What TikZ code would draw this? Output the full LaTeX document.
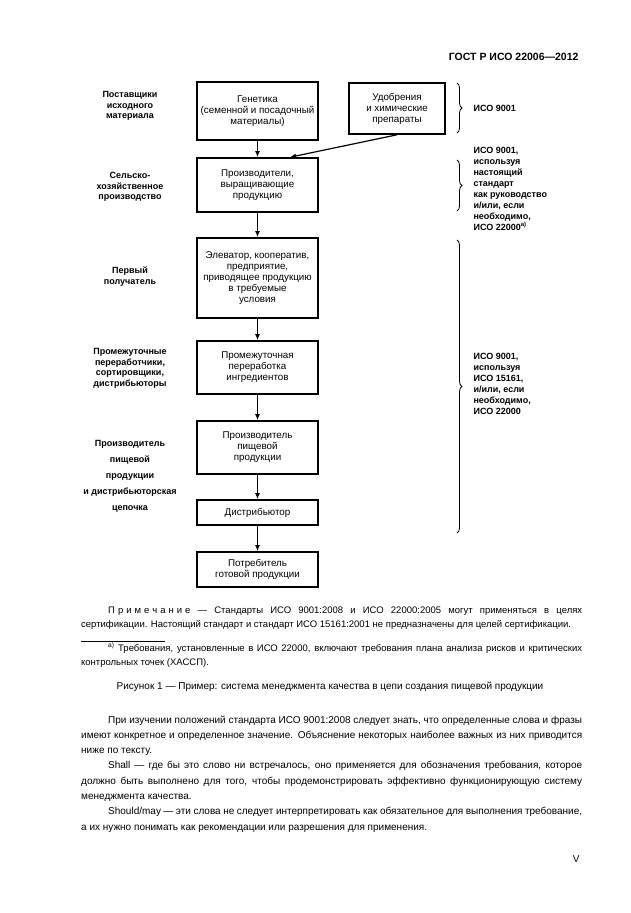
\documentclass[tikz,border=0pt]{standalone}
\usepackage{fontspec}
\setmainfont{Liberation Sans}
\usetikzlibrary{arrows.meta,positioning,decorations.pathreplacing}
\tikzset{>={Latex[length=6pt,width=5pt]}}
\newcommand{\ls}{\hspace{3pt}}

\begin{document}
\begin{tikzpicture}[x=1pt, y=-1pt,
	stage/.style={rectangle, draw=black, line width=1.6pt, minimum width=121pt, inner sep=1pt, align=center, font=\fontsize{9.8}{11}\selectfont},
	who/.style={align=center, font=\bfseries\fontsize{9}{10.6}\selectfont},
	iso/.style={anchor=west, align=left, font=\bfseries\fontsize{9}{11}\selectfont},
	brc/.style={decorate, decoration={brace, amplitude=5pt}, line width=0.8pt},
	para/.style={anchor=base west, inner sep=0pt, text width=501pt, align=justify},
	node distance=74pt, on grid]
	\useasboundingbox (0,0) rectangle (630,913);

	\node[anchor=base east, font=\bfseries\fontsize{10.5}{12}\selectfont] (head) at (582,60) {ГОСТ Р ИСО 22006—2012};

	% chain of boxes
	\node[stage, minimum height=58pt] (gen) at (257.5,111) {Генетика\\(семенной и посадочный\\материалы)};
	\node[stage, minimum height=54pt] (farm) [below=74pt of gen] {Производители,\\выращивающие\\продукцию};
	\node[stage, minimum height=80pt] (elev) [below=93pt of farm] {Элеватор, кооператив,\\предприятие,\\приводящее продукцию\\в требуемые\\условия};
	\node[stage, minimum height=53pt] (mid) [below=89.5pt of elev] {Промежуточная\\переработка\\ингредиентов};
	\node[stage, minimum height=53pt] (prod) [below=80pt of mid] {Производитель\\пищевой\\продукции};
	\node[stage, minimum height=25pt] (dist) [below=65pt of prod] {Дистрибьютор};
	\node[stage, minimum height=35pt] (cons) [below=57pt of dist] {Потребитель\\готовой продукции};
	\node[stage, minimum width=96pt, minimum height=51pt] (fert) [above right=2.5pt and 139.5pt of gen] {Удобрения\\и химические\\препараты};

	\path[->, line width=1.6pt]
		(gen) edge (farm)
		(farm) edge (elev)
		(elev) edge (mid)
		(mid) edge (prod)
		(prod) edge (dist)
		(dist) edge (cons);
	\draw[->, line width=1.2pt] (fert.south) -- ([xshift=32.5pt]farm.north);

	% stages on the left
	\node[who] (lsup) [left=127.5pt of gen, yshift=5pt] {Поставщики\\исходного\\материала};
	\node[who] (lfarm) [left=127.5pt of farm, yshift=-2pt] {Сельско-\\хозяйственное\\производство};
	\node[who] (lfirst) [left=127.5pt of elev, yshift=1.5pt] {Первый\\получатель};
	\node[who] (lmid) [left=127.5pt of mid, yshift=-1pt] {Промежуточные\\переработчики,\\сортировщики,\\дистрибьюторы};
	\node[who, font=\bfseries\fontsize{9}{16}\selectfont] (lprod) [left=127.5pt of prod, yshift=-28.5pt] {Производитель\\пищевой\\продукции\\и дистрибьюторская\\цепочка};

	% standards on the right
	\draw[brc] (457,83) -- (457,133);
	\draw[brc] (457,160) -- (457,211);
	\draw[brc] (457,240) -- (457,533);
	\node[iso] (iso1) at (470,108) {ИСО 9001};
	\node[iso] (iso2) at (470,189) {ИСО 9001,\\используя\\настоящий\\стандарт\\как руководство\\и/или, если\\необходимо,\\ИСО 22000\textsuperscript{а)}};
	\node[iso] (iso3) at (470,384) {ИСО 9001,\\используя\\ИСО 15161,\\и/или, если\\необходимо,\\ИСО 22000};

	% text under the figure
	\node[para, font=\fontsize{9.5}{14}\selectfont] (note) at (81,613) {\hspace*{27pt}П\ls р\ls и\ls м\ls е\ls ч\ls а\ls н\ls и\ls е~— Стандарты ИСО 9001:2008 и ИСО 22000:2005 могут применяться в целях\linebreak сертификации. Настоящий стандарт и стандарт ИСО 15161:2001 не предназначены для целей сертификации.};
	\draw[line width=0.6pt] (81,641) -- (165,641);
	\node[para, font=\fontsize{9.5}{14}\selectfont] (foot) at (81,651) {\hspace*{27pt}\textsuperscript{а)} Требования, установленные в ИСО 22000, включают требования плана анализа рисков и критических\linebreak контрольных точек (ХАССП).};
	\node[anchor=base, font=\fontsize{10}{12}\selectfont] (cap) at (330,689) {Рисунок 1 — Пример: система менеджмента качества в цепи создания пищевой продукции};
	\node[para, font=\fontsize{10}{15.3}\selectfont] (body) at (81,723) {\hspace*{27pt}При изучении положений стандарта ИСО 9001:2008 следует знать, что определенные слова и фразы\linebreak имеют конкретное и определенное значение. Объяснение некоторых наиболее важных из них приводится\linebreak ниже по тексту.\par
		\hspace*{27pt}Shall — где бы это слово ни встречалось, оно применяется для обозначения требования, которое\linebreak должно быть выполнено для того, чтобы продемонстрировать эффективно функционирующую систему\linebreak менеджмента качества.\par
		\hspace*{27pt}Should/may — эти слова не следует интерпретировать как обязательное для выполнения требование,\linebreak а их нужно понимать как рекомендации или разрешения для применения.};
	\node[anchor=base east, font=\fontsize{10}{12}\selectfont] (pg) at (583,862) {V};
\end{tikzpicture}
\end{document}
